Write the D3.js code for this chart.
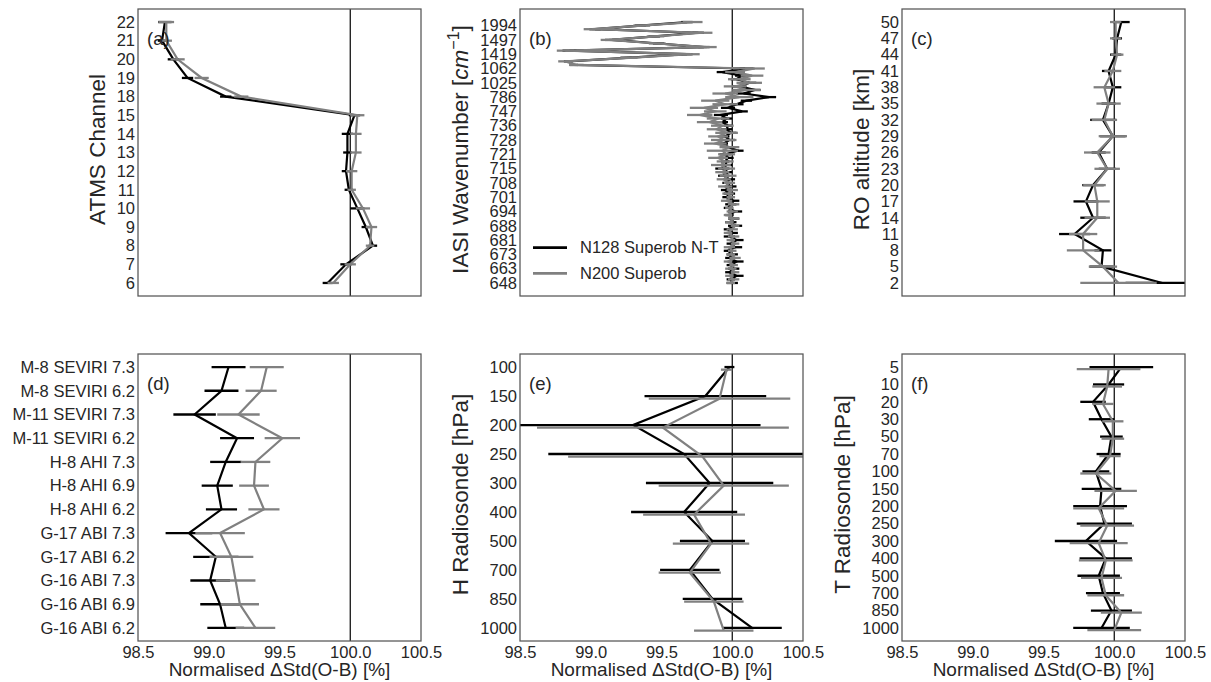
<!DOCTYPE html>
<html>
<head>
<meta charset="utf-8">
<script src="https://cdn.jsdelivr.net/npm/d3@7"></script>
<style>
body { margin: 0; background: #fff; }
svg { font-family: "Liberation Sans", Arial, sans-serif; }
</style>
</head>
<body>
<svg id="chart" width="1211" height="682"></svg>
<script>
// ---- data ----
const xTicks = [98.5, 99.0, 99.5, 100.0, 100.5];

// (a) ATMS
const atmsChannels = ["6","7","8","9","10","11","12","13","14","15","18","19","20","21","22"];
const atmsN128    = [99.84,99.97,100.16,100.11,100.05,99.99,99.97,99.98,99.98,100.03,99.12,98.85,98.75,98.67,98.69];
const atmsN128Err = [0.035,0.04,0.03,0.03,0.05,0.03,0.03,0.03,0.04,0.04,0.04,0.04,0.04,0.03,0.047];
const atmsN200    = [99.88,100.00,100.14,100.15,100.09,100.01,100.01,100.04,100.04,100.05,99.23,98.95,98.78,98.70,98.70];
const atmsN200Err = [0.04,0.04,0.03,0.04,0.05,0.03,0.04,0.04,0.04,0.05,0.05,0.05,0.05,0.04,0.055];

// (b) IASI, one label every 4th channel
const iasiLabels = ["648","663","673","681","688","694","701","708","715","721","728","736","747","786","1025","1062","1419","1497","1994"];
const iasiN128 = [
  100.00,99.99,100.03,99.98,100.01,99.99,100.03,99.98,100.00,99.97,
  100.02,99.99,100.03,99.98,100.00,99.97,100.02,99.99,100.01,99.98,
  100.02,99.97,99.99,100.01,99.96,99.98,99.95,99.99,99.96,99.98,
  99.94,99.97,99.93,99.96,99.95,99.97,99.95,100.04,99.97,99.94,
  99.98,99.95,99.99,99.96,99.97,99.93,99.96,99.92,100.07,99.97,
  100.03,100.10,100.26,100.08,100.16,100.05,100.12,100.03,100.07,99.93,
  100.10,98.88,98.84,99.25,99.68,98.85,99.80,99.48,99.15,99.45,
  99.76,99.03,99.35,99.68];
const iasiN128Err = [
  0.04,0.03,0.05,0.03,0.04,0.03,0.05,0.03,0.04,0.03,
  0.05,0.03,0.05,0.04,0.04,0.03,0.05,0.04,0.04,0.03,
  0.05,0.03,0.04,0.04,0.03,0.04,0.03,0.04,0.03,0.04,
  0.04,0.03,0.05,0.04,0.03,0.04,0.04,0.04,0.04,0.03,
  0.04,0.03,0.04,0.04,0.03,0.04,0.04,0.05,0.04,0.05,
  0.05,0.04,0.05,0.05,0.04,0.05,0.05,0.04,0.05,0.04,
  0.05,0.03,0.03,0.04,0.04,0.05,0.04,0.04,0.05,0.04,
  0.04,0.04,0.04,0.04];
const iasiN200 = [
  99.99,100.01,99.98,100.02,99.99,100.01,99.97,100.02,99.99,100.00,
  99.98,100.02,99.99,100.01,99.97,100.00,100.02,99.98,100.01,99.97,
  100.00,99.98,100.01,99.96,99.99,99.97,100.00,99.95,99.98,99.94,
  99.97,99.93,99.96,99.92,99.95,99.90,99.96,99.93,99.98,99.88,
  99.94,99.90,99.96,99.89,99.93,99.84,99.90,99.77,99.88,99.80,
  99.95,99.88,100.05,99.95,100.10,100.02,100.12,100.05,100.14,100.02,
  100.16,98.90,98.82,99.27,99.71,98.82,99.82,99.47,99.13,99.46,
  99.79,99.01,99.36,99.72];
const iasiN200Err = [
  0.03,0.04,0.03,0.03,0.04,0.03,0.03,0.04,0.03,0.03,
  0.04,0.03,0.03,0.04,0.03,0.04,0.03,0.03,0.04,0.03,
  0.04,0.03,0.04,0.04,0.03,0.04,0.04,0.05,0.04,0.05,
  0.06,0.05,0.06,0.07,0.06,0.07,0.06,0.11,0.07,0.08,
  0.09,0.07,0.08,0.07,0.08,0.09,0.08,0.09,0.08,0.10,
  0.09,0.10,0.10,0.09,0.10,0.08,0.09,0.08,0.08,0.07,
  0.07,0.05,0.05,0.06,0.06,0.06,0.07,0.06,0.06,0.06,
  0.07,0.06,0.06,0.07];

// (c) RO
const roLevels = ["2","5","8","11","14","17","20","23","26","29","32","35","38","41","44","47","50"];
const roN128    = [100.34,99.91,99.92,99.72,99.85,99.80,99.85,99.95,99.89,99.99,99.92,99.96,99.99,99.96,100.01,100.02,100.05];
const roN128Err = [0.26,0.085,0.06,0.11,0.09,0.088,0.076,0.06,0.05,0.09,0.09,0.05,0.06,0.047,0.04,0.035,0.059];
const roN200    = [100.03,99.92,99.78,99.78,99.88,99.88,99.86,99.95,99.88,99.99,99.93,99.96,99.93,99.99,100.02,100.01,100.01];
const roN200Err = [0.27,0.10,0.115,0.10,0.09,0.088,0.08,0.09,0.094,0.10,0.09,0.086,0.076,0.06,0.045,0.04,0.04];

// (d) geostationary WV
const geoNames = ["G-16 ABI 6.2","G-16 ABI 6.9","G-16 ABI 7.3","G-17 ABI 6.2","G-17 ABI 7.3","H-8 AHI 6.2",
  "H-8 AHI 6.9","H-8 AHI 7.3","M-11 SEVIRI 6.2","M-11 SEVIRI 7.3","M-8 SEVIRI 6.2","M-8 SEVIRI 7.3"];
const geoN128    = [99.12,99.08,99.01,99.05,98.86,99.09,99.06,99.12,99.20,98.90,99.09,99.14];
const geoN128Err = [0.13,0.14,0.14,0.16,0.165,0.11,0.11,0.11,0.12,0.15,0.12,0.12];
const geoN200    = [99.33,99.22,99.19,99.16,99.08,99.39,99.32,99.33,99.52,99.21,99.37,99.41];
const geoN200Err = [0.14,0.135,0.14,0.155,0.175,0.11,0.105,0.105,0.125,0.15,0.11,0.12];

// (e) humidity radiosonde
const hLevels = ["1000","850","700","500","400","300","250","200","150","100"];
const hN128    = [100.14,99.86,99.70,99.86,99.66,99.84,99.66,99.30,99.81,99.98];
const hN128Err = [0.21,0.21,0.21,0.23,0.375,0.45,0.96,0.90,0.43,0.035];
const hN200    = [99.94,99.87,99.70,99.85,99.73,99.94,99.79,99.51,99.91,99.96];
const hN200Err = [0.21,0.21,0.22,0.27,0.36,0.46,0.95,0.89,0.50,0.04];

// (f) temperature radiosonde
const tLevels = ["1000","850","700","500","400","300","250","200","150","100","70","50","30","20","10","5"];
const tN128    = [99.91,99.98,99.92,99.89,99.94,99.80,99.93,99.90,99.91,99.87,99.96,99.98,99.91,99.85,99.96,100.05];
const tN128Err = [0.20,0.145,0.12,0.15,0.185,0.22,0.195,0.19,0.14,0.095,0.085,0.08,0.09,0.09,0.11,0.225];
const tN200    = [100.00,100.05,99.94,99.91,99.94,99.89,99.95,99.89,100.01,99.87,99.97,99.99,99.99,99.92,99.95,99.96];
const tN200Err = [0.19,0.145,0.13,0.145,0.19,0.205,0.19,0.18,0.15,0.11,0.075,0.08,0.075,0.075,0.105,0.225];

// ---- layout ----
const W = 283, H = 287;
const cols = [138, 520, 902], rows = [9, 354];
const textCol = "#262626";
const svg = d3.select("#chart");

const panels = [
  { tag: "(a)", col: 0, row: 0, labels: atmsChannels, ylabel: ["ATMS Channel"],
    n128: atmsN128, n128e: atmsN128Err, n200: atmsN200, n200e: atmsN200Err, shift: 0 },
  { tag: "(b)", col: 1, row: 0, labels: iasiLabels, every: 4, ylabel: "iasi",
    n128: iasiN128, n128e: iasiN128Err, n200: iasiN200, n200e: iasiN200Err, shift: 0, legend: true },
  { tag: "(c)", col: 2, row: 0, labels: roLevels, ylabel: ["RO altitude [km]"],
    n128: roN128, n128e: roN128Err, n200: roN200, n200e: roN200Err, shift: 0 },
  { tag: "(d)", col: 0, row: 1, labels: geoNames, ylabel: null,
    n128: geoN128, n128e: geoN128Err, n200: geoN200, n200e: geoN200Err, shift: 0 },
  { tag: "(e)", col: 1, row: 1, labels: hLevels, ylabel: ["H Radiosonde [hPa]"],
    n128: hN128, n128e: hN128Err, n200: hN200, n200e: hN200Err, shift: -0.09 },
  { tag: "(f)", col: 2, row: 1, labels: tLevels, ylabel: ["T Radiosonde [hPa]"],
    n128: tN128, n128e: tN128Err, n200: tN200, n200e: tN200Err, shift: -0.12 }
];

panels.forEach((p, k) => {
  const left = cols[p.col], top = rows[p.row];
  const g = svg.append("g").attr("transform", `translate(${left},${top})`);
  const n = p.n128.length;
  const x = d3.scaleLinear().domain([98.5, 100.5]).range([0, W]);
  const y = d3.scaleLinear().domain([-0.05 * (n - 1), 1.05 * (n - 1)]).range([H, 0]);

  g.append("clipPath").attr("id", "clip" + k)
    .append("rect").attr("width", W).attr("height", H);
  const plot = g.append("g").attr("clip-path", `url(#clip${k})`);

  // reference line at 100 %
  plot.append("line")
    .attr("x1", x(100)).attr("x2", x(100)).attr("y1", 0).attr("y2", H)
    .attr("stroke", "#000").attr("stroke-width", 1.2);

  const series = [
    { vals: p.n128, errs: p.n128e, color: "#000000", dy: 0 },
    { vals: p.n200, errs: p.n200e, color: "#808080", dy: p.shift }
  ];
  series.forEach(s => {
    const pts = s.vals.map((v, i) => ({ v: v, e: s.errs[i], i: i + s.dy }));
    plot.selectAll(null).data(pts).enter().append("line")
      .attr("x1", d => x(d.v - d.e)).attr("x2", d => x(d.v + d.e))
      .attr("y1", d => y(d.i)).attr("y2", d => y(d.i))
      .attr("stroke", s.color).attr("stroke-width", 2.3);
    plot.append("path").datum(pts)
      .attr("d", d3.line().x(d => x(d.v)).y(d => y(d.i)))
      .attr("fill", "none").attr("stroke", s.color).attr("stroke-width", 2.2)
      .attr("stroke-linejoin", "miter");
  });

  // frame
  g.append("rect").attr("width", W).attr("height", H)
    .attr("fill", "none").attr("stroke", "#555").attr("stroke-width", 1.25);

  // y axis
  const every = p.every || 1;
  const tickIdx = p.labels.map((_, j) => j * every);
  const yAx = g.append("g")
    .call(d3.axisLeft(y).tickValues(tickIdx).tickFormat((_, j) => p.labels[j]).tickSize(0).tickPadding(3));
  yAx.select(".domain").remove();
  yAx.selectAll("text").attr("font-size", "16.5px").attr("fill", textCol)
    .attr("font-family", "Liberation Sans, Arial, sans-serif");
  let maxW = 0;
  yAx.selectAll("text").each(function () { maxW = Math.max(maxW, this.getComputedTextLength()); });

  // x axis on bottom row only
  if (p.row === 1) {
    const xAx = g.append("g").attr("transform", `translate(0,${H})`)
      .call(d3.axisBottom(x).tickValues(xTicks).tickFormat(d3.format(".1f")).tickSize(0).tickPadding(5));
    xAx.select(".domain").remove();
    xAx.selectAll("text").attr("font-size", "16.5px").attr("fill", textCol)
      .attr("font-family", "Liberation Sans, Arial, sans-serif");
    g.append("text").attr("x", W / 2).attr("y", H + 35)
      .attr("text-anchor", "middle").attr("font-size", "19px").attr("fill", textCol)
      .text("Normalised \u0394Std(O-B) [%]");
  }

  // y label
  if (p.ylabel) {
    const lx = -3 - maxW - 12;
    const t = g.append("text")
      .attr("transform", `translate(${lx},${H / 2 - 3}) rotate(-90)`)
      .attr("text-anchor", "middle").attr("font-size", "22.5px").attr("fill", textCol);
    if (p.ylabel === "iasi") {
      t.append("tspan").text("IASI Wavenumber [");
      t.append("tspan").attr("font-style", "italic").text("cm");
      t.append("tspan").attr("font-size", "16px").attr("dy", "-9").text("\u22121");
      t.append("tspan").attr("dy", "9").text("]");
    } else {
      t.text(p.ylabel[0]);
    }
  }

  // panel tag
  g.append("text").attr("x", 9).attr("y", 36)
    .attr("font-size", "18.5px").attr("fill", textCol).text(p.tag);

  // legend
  if (p.legend) {
    const items = [["N128 Superob N-T", "#000000"], ["N200 Superob", "#808080"]];
    items.forEach((it, j) => {
      const ly = 238.7 + j * 25.6;
      g.append("line").attr("x1", 13).attr("x2", 47).attr("y1", ly).attr("y2", ly)
        .attr("stroke", it[1]).attr("stroke-width", 2.7);
      g.append("text").attr("x", 60).attr("y", ly).attr("dy", "0.35em")
        .attr("font-size", "16.5px").attr("fill", textCol).text(it[0]);
    });
  }
});
</script>
</body>
</html>
